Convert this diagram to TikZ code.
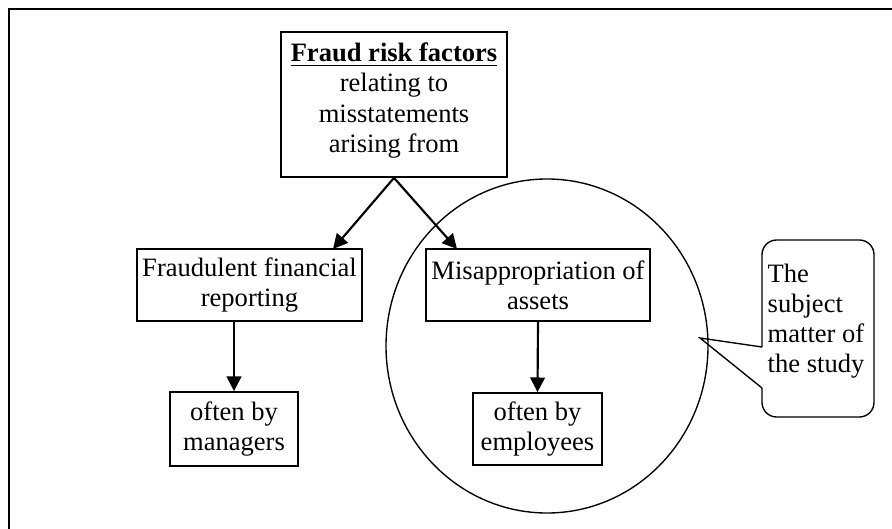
\documentclass[tikz,border=0pt]{standalone}
\usepackage{fontspec}
\setmainfont{Liberation Serif}
\usetikzlibrary{arrows.meta,shapes.geometric}

\begin{document}
\begin{tikzpicture}[
        x=0.018cm, y=-0.018cm,
        font=\fontsize{13.6}{15.4}\selectfont,
        box/.style={draw, line width=0.9pt, align=center, inner sep=0pt},
        flow/.style={-{Triangle[length=7.5pt, width=7.5pt]}, line width=1.1pt},
        bubble/.style={line width=0.7pt},
    ]
        \useasboundingbox (0,0) rectangle (892,529);
        \draw[line width=1pt] (9,529) -- (9,9) -- (892,9);

        \node[box, minimum width=226*0.018cm, minimum height=145*0.018cm] (risk) at (394,104.5)
            {\textbf{\underline{Fraud risk factors}}\\ relating to\\ misstatements\\ arising from\rule[-7pt]{0pt}{7pt}};

        \node[box, minimum width=225*0.018cm, minimum height=72*0.018cm] (fraud) at (249.5,285)
            {Fraudulent financial\\ reporting};
        \node[box, minimum width=224*0.018cm, minimum height=72*0.018cm] (assets) at (538,285)
            {Misappropriation of\\ assets};

        \node[box, minimum width=128*0.018cm, minimum height=74*0.018cm] (managers) at (234,429)
            {often by\\ managers};
        \node[box, minimum width=129*0.018cm, minimum height=72*0.018cm] (employees) at (537.5,429)
            {often by\\ employees};

        \node[draw, ellipse, line width=0.7pt, inner sep=0pt,
            minimum width=322*0.018cm, minimum height=334*0.018cm] (focus) at (547,346) {};

        % arrows
        \coordinate (forkL) at (333,249);
        \coordinate (forkR) at (457,249);
        \draw[flow] (risk.south) -- (forkL);
        \draw[flow] (risk.south) -- (forkR);
        \draw[flow] (managers.north |- fraud.south) -- (managers.north);
        \draw[flow] (assets.south) -- (employees.north);

        % callout
        \node[align=left, inner sep=0pt] (note) at (816,321) {The\\ subject\\ matter of\\ the study};
        \coordinate (tip) at (700,338);
        \draw[bubble, rounded corners=7.5pt] (762,347) -- (762,240) -- (874,240) -- (874,417) -- (762,417) -- (762,388);
        \draw[bubble] (762,388) -- (tip) -- (762,347);
\end{tikzpicture}
\end{document}
